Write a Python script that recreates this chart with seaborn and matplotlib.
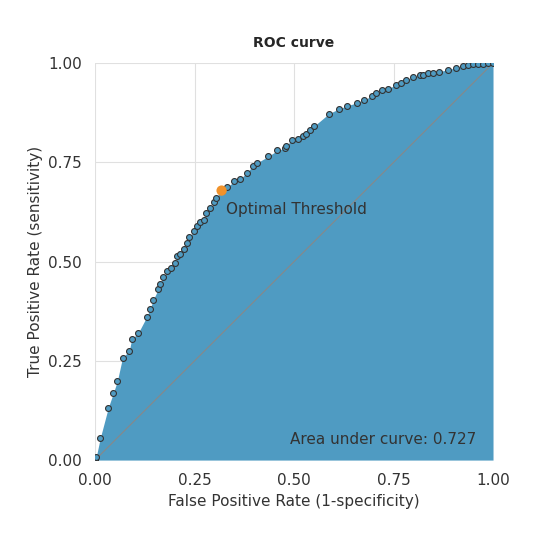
import matplotlib
matplotlib.use("Agg")
import matplotlib.pyplot as plt
import seaborn as sns
import pandas as pd

fpr = [0.0, 0.003, 0.013, 0.033, 0.046, 0.056, 0.069, 0.086, 0.092, 0.109, 0.130, 0.138, 0.146, 0.159, 0.163,
       0.172, 0.182, 0.192, 0.201, 0.207, 0.213, 0.223, 0.230, 0.237, 0.249, 0.255, 0.264, 0.274, 0.280,
       0.289, 0.299, 0.304, 0.318, 0.332, 0.349, 0.364, 0.382, 0.396, 0.406, 0.435, 0.458, 0.477, 0.481,
       0.494, 0.510, 0.523, 0.531, 0.540, 0.550, 0.588, 0.613, 0.632, 0.657, 0.675, 0.695, 0.707, 0.720,
       0.736, 0.756, 0.770, 0.781, 0.799, 0.816, 0.824, 0.837, 0.849, 0.864, 0.887, 0.906, 0.925, 0.937,
       0.950, 0.962, 0.975, 0.987, 1.0]
tpr = [0.0, 0.008, 0.055, 0.131, 0.169, 0.199, 0.258, 0.275, 0.304, 0.321, 0.361, 0.380, 0.403, 0.431, 0.444,
       0.461, 0.476, 0.484, 0.497, 0.513, 0.520, 0.533, 0.548, 0.562, 0.577, 0.590, 0.600, 0.606, 0.623,
       0.634, 0.649, 0.661, 0.679, 0.687, 0.702, 0.708, 0.724, 0.741, 0.748, 0.765, 0.780, 0.786, 0.792,
       0.806, 0.810, 0.817, 0.822, 0.831, 0.841, 0.873, 0.885, 0.892, 0.900, 0.907, 0.917, 0.926, 0.932,
       0.936, 0.945, 0.951, 0.958, 0.964, 0.970, 0.970, 0.974, 0.975, 0.979, 0.983, 0.989, 0.993, 0.995,
       0.997, 0.997, 0.998, 1.0, 1.0]
opt_fpr, opt_tpr = [0.318], [0.679]
auc_label = "Area under curve: 0.727"

sns.set_theme(style="whitegrid")
plt.rcParams['font.family'] = ['DejaVu Sans']
df = pd.DataFrame({"fpr": fpr, "tpr": tpr})

fig, ax = plt.subplots(figsize=(5.4, 5.4), dpi=100)
fig.subplots_adjust(left=0.176, right=0.913, top=0.883, bottom=0.148)
ax.fill_between(df.fpr, df.tpr, color="#4f9bc2", lw=0, zorder=1)
ax.plot([0, 1], [0, 1], color="#888888", lw=0.8, zorder=2)
sns.scatterplot(data=df, x="fpr", y="tpr", ax=ax, color="#4f9bc2", edgecolor="#333333",
                linewidth=0.8, s=18, zorder=3)
sns.scatterplot(x=opt_fpr, y=opt_tpr, ax=ax, color="#f0922b", edgecolor="none", s=55, zorder=4)
ax.text(0.33, 0.62, "Optimal Threshold", fontsize=11, color="#333333")
ax.text(0.49, 0.04, auc_label, fontsize=11, color="#333333")
ax.set_xlim(0, 1)
ax.set_ylim(0, 1)
ticks = [0, 0.25, 0.5, 0.75, 1.0]
ax.set_xticks(ticks)
ax.set_yticks(ticks)
ax.set_xticklabels(["0.00", "0.25", "0.50", "0.75", "1.00"], fontsize=11, color="#333333")
ax.set_yticklabels(["0.00", "0.25", "0.50", "0.75", "1.00"], fontsize=11, color="#333333")
ax.set_xlabel("False Positive Rate (1-specificity)", fontsize=11, color="#333333")
ax.set_ylabel("True Positive Rate (sensitivity)", fontsize=11, color="#333333")
ax.set_title("ROC curve", fontsize=10, fontweight="bold", pad=12)
ax.grid(color="#e0e0e0", lw=0.8)
for s in ax.spines.values():
    s.set_visible(False)
fig.savefig("out.png", dpi=100)
